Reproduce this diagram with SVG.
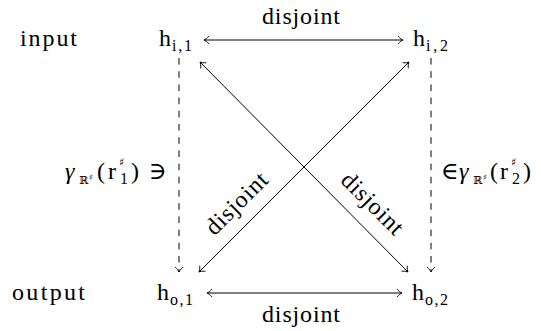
<svg xmlns="http://www.w3.org/2000/svg" width="541" height="331" viewBox="0 0 541 331">
<defs>
<marker id="to" viewBox="-6 -5 7 10" markerWidth="7" markerHeight="10" refX="0" refY="0" orient="auto-start-reverse" markerUnits="userSpaceOnUse" overflow="visible">
<path d="M-5,-4 C-3,-1.5 -1,-0.4 0,0 C-1,0.4 -3,1.5 -5,4" fill="none" stroke="#000" stroke-width="0.9"/>
</marker>
</defs>
<g id="label-input"><text font-family="Liberation Serif" font-size="24" x="20" y="46" textLength="57">input</text></g>
<g id="label-output"><text font-family="Liberation Serif" font-size="24" x="12" y="300" textLength="73">output</text></g>
<g id="h_i1"><text font-family="Liberation Serif" font-size="24" x="159" y="46">h</text><text font-family="Liberation Serif" font-size="16" x="172" y="51" textLength="20">i,1</text></g>
<g id="h_i2"><text font-family="Liberation Serif" font-size="24" x="413" y="46">h</text><text font-family="Liberation Serif" font-size="16" x="426" y="51" textLength="22">i,2</text></g>
<g id="h_o1"><text font-family="Liberation Serif" font-size="24" x="157" y="300">h</text><text font-family="Liberation Serif" font-size="16" x="170" y="305" textLength="23">o,1</text></g>
<g id="h_o2"><text font-family="Liberation Serif" font-size="24" x="412" y="300">h</text><text font-family="Liberation Serif" font-size="16" x="425" y="305" textLength="23">o,2</text></g>
<g id="connectors">
<g stroke="#000" stroke-width="1" fill="none">
<line x1="204" y1="40" x2="403" y2="40" marker-start="url(#to)" marker-end="url(#to)"/>
<line x1="207" y1="293" x2="402" y2="293" marker-start="url(#to)" marker-end="url(#to)"/>
<line x1="200" y1="62" x2="408" y2="272" marker-start="url(#to)" marker-end="url(#to)"/>
<line x1="409" y1="62" x2="199" y2="272" marker-start="url(#to)" marker-end="url(#to)"/>
<line x1="179" y1="58" x2="179" y2="272" stroke-dasharray="6.6 6.6" marker-end="url(#to)"/>
<line x1="431" y1="58" x2="431" y2="272" stroke-dasharray="6.6 6.6" marker-end="url(#to)"/>
</g>
<text font-family="Liberation Serif" font-size="24" x="301" y="24" text-anchor="middle" textLength="78">disjoint</text>
<text font-family="Liberation Serif" font-size="24" x="301" y="322" text-anchor="middle" textLength="78">disjoint</text>
<text font-family="Liberation Serif" font-size="24" transform="translate(242,209) rotate(-45)" text-anchor="middle" textLength="78">disjoint</text>
<text font-family="Liberation Serif" font-size="24" transform="translate(367,209) rotate(45)" text-anchor="middle" textLength="78">disjoint</text>
<g id="label-left">
<text font-family="Liberation Serif" font-size="24" font-style="italic" x="65" y="179">γ</text>
<text font-family="DejaVu Serif" font-size="11" x="79" y="184">ℝ</text>
<text font-family="DejaVu Serif" font-size="8" x="89" y="180">♯</text>
<text font-family="Liberation Serif" font-size="24" x="97" y="179">(</text>
<text font-family="Liberation Serif" font-size="24" x="108" y="179">r</text>
<text font-family="DejaVu Serif" font-size="11" x="119" y="166">♯</text>
<text font-family="Liberation Serif" font-size="16" x="120" y="184">1</text>
<text font-family="Liberation Serif" font-size="24" x="131" y="179">)</text>
<text font-family="Liberation Serif, DejaVu Serif" font-size="24" x="149" y="179">∋</text>
</g>
<g id="label-right">
<text font-family="Liberation Serif, DejaVu Serif" font-size="24" x="441" y="179">∈</text>
<text font-family="Liberation Serif" font-size="24" font-style="italic" x="459" y="179">γ</text>
<text font-family="DejaVu Serif" font-size="11" x="473" y="184">ℝ</text>
<text font-family="DejaVu Serif" font-size="8" x="483" y="180">♯</text>
<text font-family="Liberation Serif" font-size="24" x="490" y="179">(</text>
<text font-family="Liberation Serif" font-size="24" x="500" y="179">r</text>
<text font-family="DejaVu Serif" font-size="11" x="511" y="166">♯</text>
<text font-family="Liberation Serif" font-size="16" x="512" y="184">2</text>
<text font-family="Liberation Serif" font-size="24" x="523" y="179">)</text>
</g>
</g>
</svg>
